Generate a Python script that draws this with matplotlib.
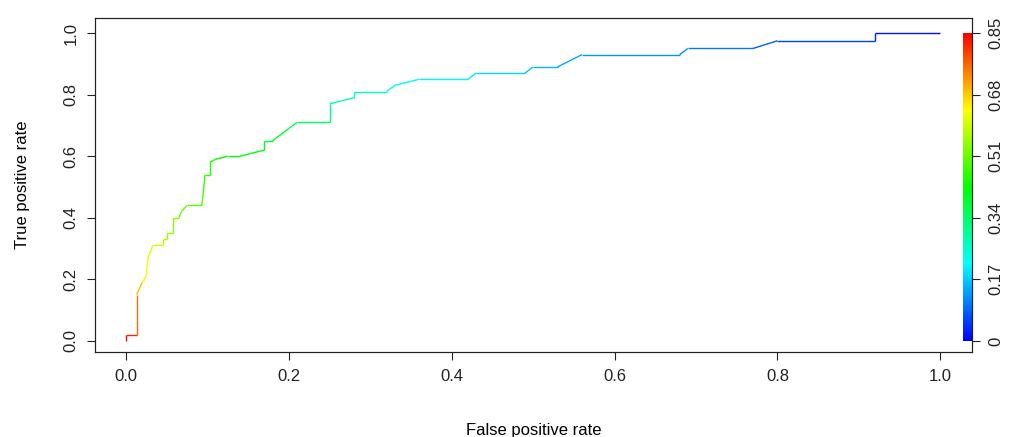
import numpy as np
import matplotlib
matplotlib.use("Agg")
import matplotlib.pyplot as plt
from matplotlib.collections import LineCollection
import colorsys

plt.rcParams['font.family'] = ['Liberation Sans', 'DejaVu Sans']

fpr = [0,0,0.013,0.013,0.02,0.025,0.027,0.033,0.045,0.045,0.05,0.05,0.058,0.058,0.065,0.068,0.075,0.093,0.095,0.097,0.103,0.103,0.11,0.125,0.14,0.17,0.17,0.18,0.2,0.21,0.25,0.25,0.265,0.28,0.28,0.32,0.33,0.36,0.42,0.43,0.49,0.5,0.53,0.56,0.68,0.69,0.77,0.8,0.92,0.92,1.0]
tpr = [0,0.02,0.02,0.15,0.19,0.21,0.27,0.31,0.31,0.33,0.33,0.35,0.35,0.40,0.40,0.42,0.44,0.44,0.48,0.54,0.54,0.58,0.59,0.60,0.60,0.62,0.65,0.65,0.69,0.71,0.71,0.77,0.78,0.79,0.81,0.81,0.83,0.85,0.85,0.87,0.87,0.89,0.89,0.93,0.93,0.95,0.95,0.975,0.975,1.0,1.0]
cutoff = [0.85,0.84,0.80,0.72,0.66,0.64,0.62,0.60,0.58,0.57,0.56,0.55,0.54,0.53,0.52,0.51,0.50,0.49,0.48,0.46,0.45,0.44,0.43,0.42,0.42,0.41,0.40,0.39,0.37,0.35,0.33,0.28,0.27,0.26,0.25,0.24,0.23,0.21,0.20,0.19,0.17,0.16,0.15,0.13,0.12,0.11,0.09,0.07,0.04,0.02,0.0]
cb_ticks = [0, 0.17, 0.34, 0.51, 0.68, 0.85]
cb_labels = ["0", "0.17", "0.34", "0.51", "0.68", "0.85"]
cmax = 0.85

def col(c):
    h = (1 - c / cmax) * 0.667
    return colorsys.hsv_to_rgb(h, 1, 1)

fig = plt.figure(figsize=(10.12, 4.37), dpi=100)
ax = fig.add_axes([95/1012, 85/437, 877/1012, 334/437])
pts = np.column_stack([fpr, tpr])
segs = [pts[i:i+2] for i in range(len(pts)-1)]
cols = [col((cutoff[i]+cutoff[i+1])/2) for i in range(len(pts)-1)]
ax.add_collection(LineCollection(segs, colors=cols, linewidths=1))

grad = np.linspace(0, 1, 256)
cmap_cols = np.array([col(g*cmax) for g in grad]).reshape(-1,1,3)
ax.imshow(cmap_cols, origin='lower', extent=[1.028, 1.039, 0, 1], aspect='auto', zorder=3)
ax.set_xlim(-0.038, 1.039)
ax.set_ylim(-0.036, 1.049)

ax.set_xticks([0,0.2,0.4,0.6,0.8,1.0])
ax.set_xticklabels(["0.0","0.2","0.4","0.6","0.8","1.0"])
ax.set_yticks([0,0.2,0.4,0.6,0.8,1.0])
ax.set_yticklabels(["0.0","0.2","0.4","0.6","0.8","1.0"], rotation=90, va='center')
ax.tick_params(labelsize=12, colors='#222222', length=6, pad=6)
ax.set_xlabel("False positive rate", fontsize=12, labelpad=28)
ax.set_ylabel("True positive rate", fontsize=12, labelpad=24)

ax2 = ax.twinx()
ax2.set_ylim(ax.get_ylim())
ax2.set_yticks([t/cmax for t in cb_ticks])
ax2.set_yticklabels(cb_labels, rotation=90, va='center')
ax2.tick_params(labelsize=12, colors='#222222', length=6, pad=6)
for a in (ax, ax2):
    for s in a.spines.values():
        s.set_color('#222222')
fig.savefig("out.png", dpi=100)
